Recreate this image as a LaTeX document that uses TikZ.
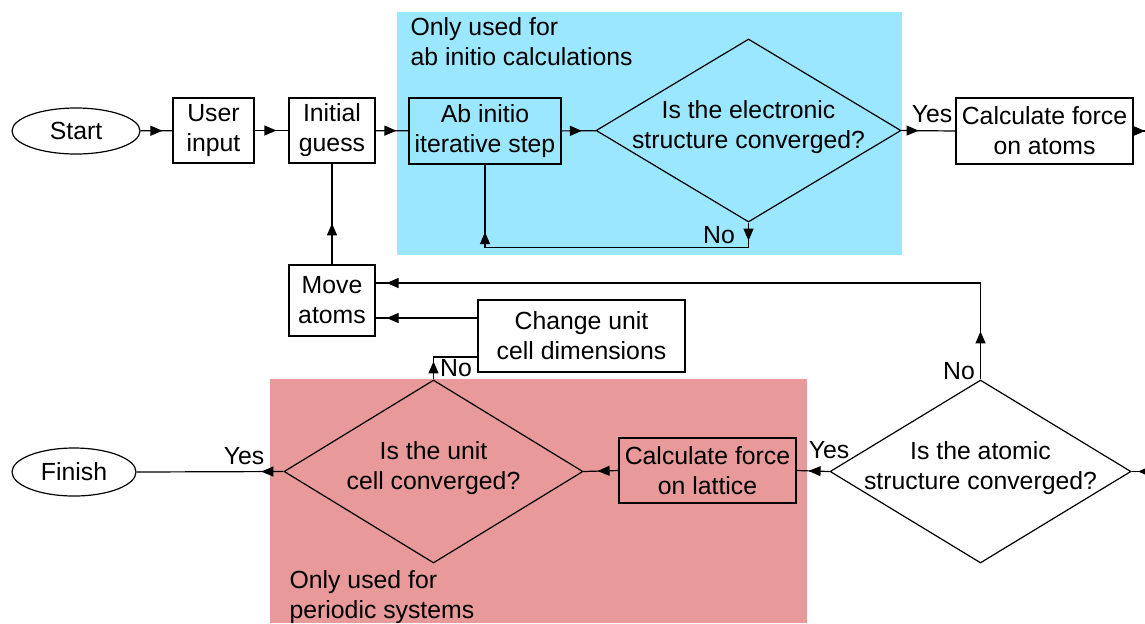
\documentclass[tikz,border=0pt]{standalone}
\usepackage{fontspec}
\setmainfont{Liberation Sans}
\usetikzlibrary{shapes.geometric,arrows.meta,decorations.markings}
\definecolor{abblue}{HTML}{9BE7FF}
\definecolor{perred}{HTML}{E89999}
\begin{document}
\begin{tikzpicture}[x=0.5pt,y=-0.5pt,
  font=\fontsize{12.4}{15}\selectfont,
  line width=0.6pt,
  box/.style={draw,rectangle,align=center,inner sep=0pt},
  term/.style={draw,ellipse,inner sep=0pt},
  decide/.style={draw,diamond,inner sep=0pt},
  dtext/.style={align=center,inner sep=0pt,yshift=1.5pt},
  lbl/.style={inner sep=0pt,anchor=base},
  note/.style={inner sep=0pt,anchor=base west},
  tipat/.style={postaction={decorate,decoration={markings,
     mark=at position #1 with {\arrow{Triangle[length=6pt,width=5pt]}}}}},
  tipat2/.style 2 args={postaction={decorate,decoration={markings,
     mark=at position #1 with {\arrow{Triangle[length=6pt,width=5pt]}},
     mark=at position #2 with {\arrow{Triangle[length=6pt,width=5pt]}}}}}
]
\useasboundingbox (0,0) rectangle (1145,623);
% background regions
\fill[abblue] (397,12) rectangle (902,255);
\fill[perred] (270,379) rectangle (807,623);
\node[note] (n1a) at (410,35) {Only used for};
\node[note] (n1b) at (410,65) {ab initio calculations};
\node[note] (n2a) at (289,588) {Only used for};
\node[note] (n2b) at (289,618) {periodic systems};

% nodes
\node[term,minimum width=64pt,minimum height=23pt] (start) at (76,131) {Start};
\node[box,minimum width=40.5pt,minimum height=32.5pt] (user) at (213.5,130.5) {User\\input};
\node[box,minimum width=43pt,minimum height=32.5pt] (init) at (332,130.5) {Initial\\guess};
\node[box,minimum width=76pt,minimum height=33pt] (abinit) at (485,131) {Ab initio\\iterative step};
\node[decide,minimum width=152.5pt,minimum height=91.5pt,
  label={[dtext]center:Is the electronic\\structure converged?}] (el) at (748.5,130.5) {};
\node[box,minimum width=88.5pt,minimum height=33pt] (atoms) at (1044.5,131) {Calculate force\\on atoms};
\node[box,minimum width=43pt,minimum height=35.5pt] (move) at (332,300.5) {Move\\atoms};
\node[box,minimum width=103.5pt,minimum height=36pt] (change) at (581.5,336) {Change unit\\cell dimensions};
\node[decide,minimum width=150.5pt,minimum height=91.5pt,
  label={[dtext]center:Is the atomic\\structure converged?}] (atomic) at (980.5,471.5) {};
\node[box,minimum width=88.5pt,minimum height=32.5pt] (lattice) at (707.5,470.5) {Calculate force\\on lattice};
\node[decide,minimum width=149.5pt,minimum height=91.5pt,
  label={[dtext]center:Is the unit\\cell converged?}] (unit) at (433.5,471.5) {};
\node[term,minimum width=62pt,minimum height=24pt] (finish) at (74,472) {Finish};

\coordinate (outR) at (1150,131);
\coordinate (inR) at (1150,471.5);
\coordinate (c9) at (980.5,283);

% connectors
\draw[tipat=-5pt] (start) -- (user);
\draw[tipat=-6pt] (user) -- (init);
\draw[tipat=-6pt] (init) -- (abinit);
\draw[tipat=-7pt] (abinit) -- (el);
\draw[tipat=8.5pt] (el.east) -- (atoms.west);
\draw[tipat=-2.5pt] (atoms.east) -- (outR);
\draw[tipat2={9pt}{152pt}] (el.south) -- ++(0,25) -| (abinit.south);
\draw[tipat=20.5pt] (move.north) -- (init.south);
\draw[tipat2={24pt}{-5.5pt}] (atomic.north) -- (c9) -- (c9 -| move.east);
\draw[tipat=-5.5pt] ([yshift=-8.75pt]move.east -| change.west) -- ([yshift=-8.75pt]move.east);
\draw[tipat=9pt] (unit.north) |- ([yshift=-10.5pt]change.west);
\draw[tipat=-6pt] (atomic.west) -- (lattice.east);
\draw[tipat=-7pt] (lattice.west) -- (unit.east);
\draw[tipat=11pt] (unit.west) -- (finish.east);
\draw[tipat=6pt] (inR) -- (atomic.east);

% labels
\node[lbl] (yes1) at (932,122) {Yes};
\node[lbl] (no1) at (719,243) {No};
\node[lbl] (no2) at (959,379) {No};
\node[lbl] (no3) at (456,376) {No};
\node[lbl] (yes2) at (244,464) {Yes};
\node[lbl] (yes3) at (829,458) {Yes};
\end{tikzpicture}
\end{document}
